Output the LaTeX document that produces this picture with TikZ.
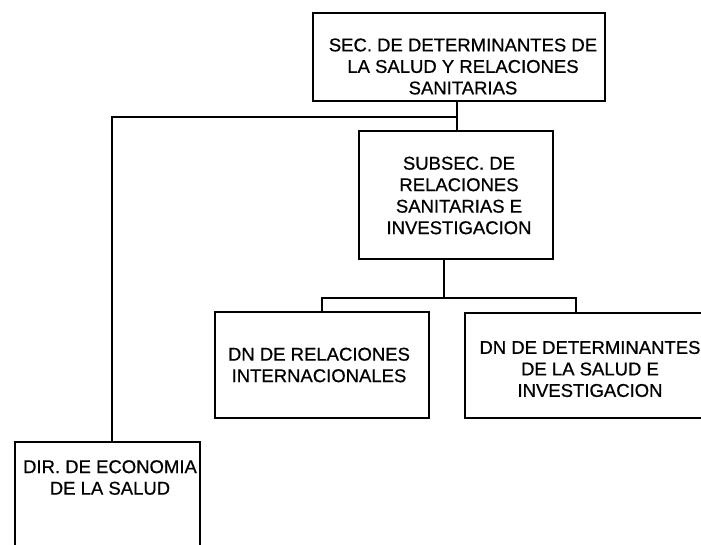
\documentclass[tikz,border=0pt]{standalone}
\usepackage{fontspec}
\setmainfont{Liberation Sans}[FakeBold=0.6]
\begin{document}
\begin{tikzpicture}[x=1pt,y=-1pt,
  box/.style={draw=black,line width=1.6pt,minimum width=#1,inner sep=0pt,anchor=north west},
  lbl/.style={align=center,inner sep=0pt,font=\fontsize{18.5}{21.5}\selectfont},
  conn/.style={draw=black,line width=1.4pt}]
\useasboundingbox (0,0) rectangle (701,545);
\fill[white] (0,0) rectangle (701,545);
\clip (0,0) rectangle (701,545);
% boxes
\node[box=292pt,minimum height=88pt] (top) at (312,12) {};
\node[box=194pt,minimum height=128pt] (sub) at (358,130) {};
\node[box=214pt,minimum height=106pt] (ri) at (214,311) {};
\node[box=260pt,minimum height=105pt] (ds) at (464,312) {};
\node[box=185pt,minimum height=130pt] (dir) at (14,441) {};
% texts
\node[lbl] (ttop) at (463,66.5) {SEC. DE DETERMINANTES DE\\LA SALUD Y RELACIONES\\SANITARIAS};
\node[lbl] (tsub) at (459,195.5) {SUBSEC. DE\\RELACIONES\\SANITARIAS E\\INVESTIGACION};
\node[lbl] (tri) at (319,365) {DN DE RELACIONES\\INTERNACIONALES};
\node[lbl] (tds) at (590,369) {DN DE DETERMINANTES\\DE LA SALUD E\\INVESTIGACION};
\node[lbl] (tdir) at (110,477.5) {DIR. DE ECONOMIA\\DE LA SALUD};
% connectors
\coordinate (j1) at (457,117);
\coordinate (j2) at (112,117);
\coordinate (j3) at (444,298);
\coordinate (jl) at (322,298);
\coordinate (jr) at (576,298);
\draw[conn] (top.south -| j1) -- (sub.north -| j1);
\draw[conn] (j1) -- (j2) -- (j2 |- dir.north);
\draw[conn] (sub.south -| j3) -- (j3);
\draw[conn] (jl |- ri.north) -- (jl) -- (jr) -- (jr |- ds.north);
\end{tikzpicture}
\end{document}
